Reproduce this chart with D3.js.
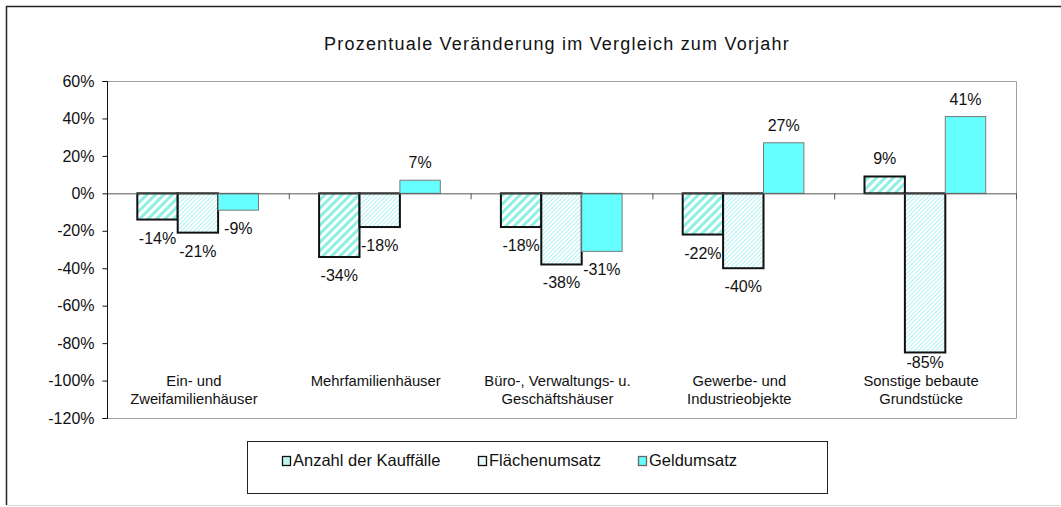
<!DOCTYPE html>
<html>
<head>
<meta charset="utf-8">
<script src="https://cdn.jsdelivr.net/npm/d3@7"></script>
<style>
  body { margin: 0; background: #fff; }
  svg { display: block; font-family: Arial, "Liberation Sans", sans-serif; }
</style>
</head>
<body>
<svg id="chart" width="1061" height="507"></svg>
<script>
// data
var categories = [
  ["Ein- und", "Zweifamilienhäuser"],
  ["Mehrfamilienhäuser"],
  ["Büro-, Verwaltungs- u.", "Geschäftshäuser"],
  ["Gewerbe- und", "Industrieobjekte"],
  ["Sonstige bebaute", "Grundstücke"]
];
var seriesNames = ["Anzahl der Kauffälle", "Flächenumsatz", "Geldumsatz"];
var anzahl = [-14, -34, -18, -22, 9];
var flaechen = [-21, -18, -38, -40, -85];
var geld = [-9, 7, -31, 27, 41];
var yTicks = [60, 40, 20, 0, -20, -40, -60, -80, -100, -120];

var series = [anzahl, flaechen, geld];

var svg = d3.select("#chart");
var defs = svg.append("defs");

// wide upward diagonal
var p1 = defs.append("pattern").attr("id", "hatchWide")
  .attr("patternUnits", "userSpaceOnUse").attr("width", 6).attr("height", 6)
  .attr("patternTransform", "rotate(45)");
p1.append("rect").attr("width", 6).attr("height", 6).attr("fill", "#fff");
p1.append("rect").attr("width", 3).attr("height", 6).attr("fill", "#8eefe6");

// light upward diagonal
var p2 = defs.append("pattern").attr("id", "hatchFine")
  .attr("patternUnits", "userSpaceOnUse").attr("width", 3).attr("height", 3)
  .attr("patternTransform", "rotate(45)");
p2.append("rect").attr("width", 3).attr("height", 3).attr("fill", "#fff");
p2.append("rect").attr("width", 1).attr("height", 3).attr("fill", "#b0f1f2");

var fills = ["url(#hatchWide)", "url(#hatchFine)", "#66ffff"];
var strokes = ["#111", "#111", "#7a7a7a"];
var strokeW = [2, 2, 1];

// outer frame
svg.append("line").attr("x1", 6.5).attr("x2", 6.5).attr("y1", 6).attr("y2", 505)
  .attr("stroke", "#222").attr("stroke-width", 1.5);
svg.append("line").attr("x1", 6).attr("x2", 1061).attr("y1", 6.5).attr("y2", 6.5)
  .attr("stroke", "#222").attr("stroke-width", 1.5);
svg.append("line").attr("x1", 6).attr("x2", 1061).attr("y1", 505.5).attr("y2", 505.5)
  .attr("stroke", "#ddd").attr("stroke-width", 1);

svg.append("text").attr("x", 557).attr("y", 50).attr("text-anchor", "middle")
  .attr("font-size", 18).attr("letter-spacing", 1.2).attr("fill", "#111")
  .text("Prozentuale Veränderung im Vergleich zum Vorjahr");

var plotL = 107, plotR = 1016, plotT = 81, plotB = 418;

var y = d3.scaleLinear().domain([-120, 60]).range([plotB, plotT]);
var x = d3.scaleBand().domain(d3.range(categories.length)).range([plotL, plotR]).paddingInner(0).paddingOuter(0);
var barW = x.bandwidth() / 4.5;
var xs = d3.scaleBand().domain(d3.range(series.length)).range([0.75 * barW, 3.75 * barW]);

// plot area border (top, right, bottom)
svg.append("path")
  .attr("d", "M" + plotL + "," + (plotT + 0.5) + "H" + (plotR + 0.5) + "V" + (plotB + 0.5) + "H" + plotL)
  .attr("fill", "none").attr("stroke", "#a0a0a0").attr("stroke-width", 1);

// bars
series.forEach(function(vals, s) {
  svg.append("g").selectAll("rect").data(vals).enter().append("rect")
    .attr("x", function(d, i) { return x(i) + xs(s); })
    .attr("y", function(d) { return y(Math.max(0, d)); })
    .attr("width", xs.bandwidth())
    .attr("height", function(d) { return Math.abs(y(d) - y(0)); })
    .attr("fill", fills[s])
    .attr("stroke", strokes[s])
    .attr("stroke-width", strokeW[s]);
});

// zero line + category ticks
svg.append("line").attr("x1", plotL).attr("x2", plotR).attr("y1", y(0) + 0.5).attr("y2", y(0) + 0.5)
  .attr("stroke", "#555").attr("stroke-width", 1);
svg.append("g").selectAll("line").data(d3.range(categories.length + 1)).enter().append("line")
  .attr("x1", function(d) { return plotL + d * x.bandwidth() + 0.5; })
  .attr("x2", function(d) { return plotL + d * x.bandwidth() + 0.5; })
  .attr("y1", y(0)).attr("y2", y(0) + 6)
  .attr("stroke", "#555");

// y axis
var yAxis = d3.axisLeft(y).tickValues(yTicks).tickSize(5).tickPadding(8)
  .tickFormat(function(d) { return d + "%"; });
var ga = svg.append("g").attr("transform", "translate(" + (plotL + 0.5) + ",0)").call(yAxis);
ga.select(".domain").attr("stroke", "#111").attr("d", "M-5," + (plotT + 0.5) + "H0V" + (plotB + 0.5) + "H-5");
ga.selectAll(".tick line").attr("stroke", "#111");
ga.selectAll("text").attr("font-size", 16).attr("fill", "#111")
  .attr("font-family", "Arial, 'Liberation Sans', sans-serif");

// value labels (long negative ones get pushed up so they clear the category labels)
series.forEach(function(vals, s) {
  svg.append("g").selectAll("text").data(vals).enter().append("text")
    .attr("x", function(d, i) { return x(i) + xs(s) + xs.bandwidth() / 2; })
    .attr("y", function(d) { return d < 0 ? Math.min(y(d) + 24, 368) : y(d) - 12; })
    .attr("text-anchor", "middle").attr("font-size", 16).attr("fill", "#111")
    .text(function(d) { return d + "%"; });
});

// category labels
var cl = svg.append("g").selectAll("text").data(categories).enter().append("text")
  .attr("x", function(d, i) { return x(i) + x.bandwidth() / 2 - 4; })
  .attr("y", 386)
  .attr("text-anchor", "middle").attr("font-size", 14.8).attr("fill", "#111");
cl.selectAll("tspan").data(function(d) { return d; }).enter().append("tspan")
  .attr("x", function() { return d3.select(this.parentNode).attr("x"); })
  .attr("dy", function(d, i) { return i === 0 ? 0 : 18; })
  .text(function(d) { return d; });

// legend
svg.append("rect").attr("x", 247.5).attr("y", 441.5).attr("width", 580).attr("height", 52)
  .attr("fill", "#fff").attr("stroke", "#222").attr("stroke-width", 1);
var legX = [282, 478, 638];
var lg = svg.append("g").selectAll("g").data(seriesNames).enter().append("g")
  .attr("transform", function(d, i) { return "translate(" + legX[i] + ",0)"; });
lg.append("rect").attr("x", 0.5).attr("y", 456.5).attr("width", 8).attr("height", 9)
  .attr("fill", function(d, i) { return i === 2 ? "#66ffff" : (i === 0 ? "#bff5f0" : "#e6fbfb"); })
  .attr("stroke", function(d, i) { return i === 2 ? "#666" : "#111"; }).attr("stroke-width", 1.3);
lg.append("text").attr("x", 11).attr("y", 466).attr("font-size", 16.5).attr("fill", "#111")
  .text(function(d) { return d; });
</script>
</body>
</html>
